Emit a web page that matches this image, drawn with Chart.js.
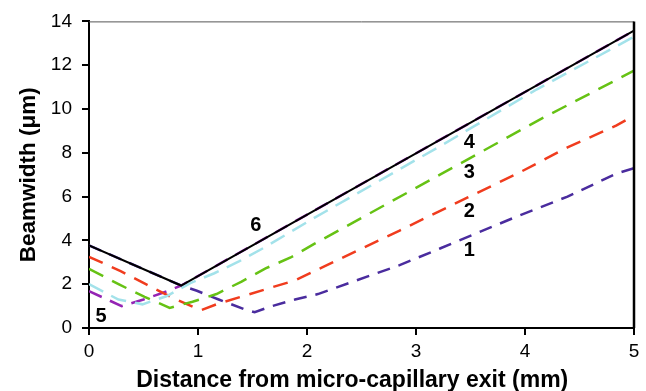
<!DOCTYPE html>
<html><head><meta charset="utf-8">
<script src="https://cdn.jsdelivr.net/npm/chart.js@4/dist/chart.umd.min.js"></script>
<style>html,body{margin:0;padding:0;background:#fff;}canvas{display:block;}</style>
</head><body>
<canvas id="c" width="646" height="391"></canvas>
<script>
// Series data: x = distance (mm), y = beamwidth (um)
const curveNames = ['6', '5', '4', '3', '2', '1'];
const x6 = [0, 0.845, 5];
const y6 = [3.77, 1.94, 13.58];
const x5 = [0, 0.3, 0.5, 0.73, 0.845, 5];
const y5 = [1.68, 1.0, 1.3, 1.7, 1.94, 13.58];
const x4 = [0, 0.27, 0.49, 0.71, 0.93, 1.15, 1.38, 1.6, 1.82, 2.05, 3.22, 4.11, 5];
const y4 = [2.0, 1.3, 1.08, 1.45, 2.05, 2.5, 3.05, 3.65, 4.3, 4.98, 8.3, 10.9, 13.3];
const x3 = [0, 0.28, 0.51, 0.74, 0.95, 1.17, 1.4, 1.62, 1.85, 2.07, 3.22, 4.11, 5];
const y3 = [2.7, 1.98, 1.42, 0.92, 1.2, 1.55, 2.12, 2.72, 3.22, 3.85, 7.0, 9.45, 11.75];
const x2 = [0, 0.29, 0.53, 0.75, 0.96, 1.03, 1.19, 1.43, 1.66, 1.89, 2.11, 2.85, 3.47, 3.93, 4.39, 4.84, 5];
const y2 = [3.25, 2.6, 1.98, 1.42, 0.95, 0.82, 1.12, 1.48, 1.83, 2.17, 2.7, 4.45, 5.95, 7.05, 8.25, 9.25, 9.7];
const x1 = [0, 0.845, 0.99, 1.19, 1.43, 1.52, 1.66, 1.89, 2.1, 2.85, 3.22, 3.47, 3.93, 4.39, 4.84, 5];
const y1 = [3.77, 1.94, 1.7, 1.3, 0.85, 0.72, 0.97, 1.3, 1.55, 2.87, 3.63, 4.15, 5.1, 6.0, 7.05, 7.3];
const xTicks = [0, 1, 2, 3, 4, 5];
const yTicks = [0, 2, 4, 6, 8, 10, 12, 14];
const xTitle = 'Distance from micro-capillary exit (mm)';
const yTitle = 'Beamwidth (\u03bcm)';

const pts = (xs, ys) => xs.map((x, i) => ({x: x, y: ys[i]}));

// curve label anchors (data units)
const curveLabelPos = {
  '6': [1.53, 4.68], '4': [3.49, 8.47], '3': [3.49, 7.1],
  '2': [3.49, 5.3], '1': [3.49, 3.55], '5': [0.11, 0.51]
};

const FONT = '"Liberation Sans", Arial, sans-serif';

const framePlugin = {
  id: 'frame',
  afterDatasetsDraw(chart) {
    const {ctx, chartArea: a} = chart;
    ctx.save();
    ctx.strokeStyle = '#555';
    ctx.lineWidth = 1;
    ctx.beginPath();
    ctx.moveTo(a.left, a.top + 0.5);
    ctx.lineTo(a.right, a.top + 0.5);
    ctx.stroke();
    ctx.strokeStyle = '#000';
    ctx.lineWidth = 2.5;
    ctx.beginPath();
    ctx.moveTo(a.right, a.top);
    ctx.lineTo(a.right, a.bottom);
    ctx.stroke();
    ctx.fillStyle = '#000';
    ctx.font = 'bold 20px ' + FONT;
    ctx.textAlign = 'center';
    ctx.textBaseline = 'middle';
    const xs = chart.scales.x, ys = chart.scales.y;
    curveNames.forEach(n => {
      const p = curveLabelPos[n];
      ctx.fillText(n, xs.getPixelForValue(p[0]), ys.getPixelForValue(p[1]));
    });
    // x-axis title (slightly left of the plot centre as in the reference)
    ctx.font = 'bold 23px ' + FONT;
    ctx.fillText(xTitle, a.left + (a.right - a.left) * 0.483, 381);
    ctx.restore();
  }
};

const mk = (label, data, color, width, dash) => ({
  label, data, borderColor: color, borderWidth: width, borderDash: dash,
  pointRadius: 0, fill: false, tension: 0, borderCapStyle: 'butt'
});

new Chart(document.getElementById('c'), {
  type: 'line',
  data: {
    datasets: [
      mk('6', pts(x6, y6), '#000000', 2, []),
      mk('4', pts(x4, y4), '#A3E2EA', 2.5, [16, 9]),
      mk('3', pts(x3, y3), '#66C214', 2.5, [16, 10]),
      mk('2', pts(x2, y2), '#F03C1E', 2.5, [15, 10]),
      mk('5', pts(x5, y5), '#9424B4', 2.5, [14, 9]),
      mk('1', pts(x1, y1), '#4A2C9E', 2.5, [13, 9])
    ]
  },
  options: {
    responsive: false,
    animation: false,
    devicePixelRatio: 1,
    layout: {padding: {top: 20, right: 12, left: 0, bottom: 0}},
    plugins: {legend: {display: false}, tooltip: {enabled: false}},
    scales: {
      x: {
        type: 'linear', min: 0, max: 5,
        afterFit: s => { s.height = 63; },
        afterBuildTicks: s => { s.ticks = xTicks.map(v => ({value: v})); },
        grid: {display: true, drawOnChartArea: false, drawTicks: true, tickLength: 7, color: '#000', lineWidth: 2},
        border: {display: true, color: '#000', width: 2},
        ticks: {color: '#000', padding: 5, font: {family: FONT, size: 19}, maxRotation: 0},
        title: {display: false}
      },
      y: {
        type: 'linear', min: 0, max: 14,
        afterFit: s => { s.width = 89; },
        afterBuildTicks: s => { s.ticks = yTicks.map(v => ({value: v})); },
        grid: {display: true, drawOnChartArea: false, drawTicks: true, tickLength: 7, color: '#000', lineWidth: 2},
        border: {display: true, color: '#000', width: 2},
        ticks: {color: '#000', padding: 10, font: {family: FONT, size: 19}},
        title: {display: true, text: yTitle, color: '#000',
          font: {family: FONT, size: 22.5, weight: 'bold', lineHeight: 1}, padding: {top: 18, bottom: 0}}
      }
    }
  },
  plugins: [framePlugin]
});
</script>
</body></html>
